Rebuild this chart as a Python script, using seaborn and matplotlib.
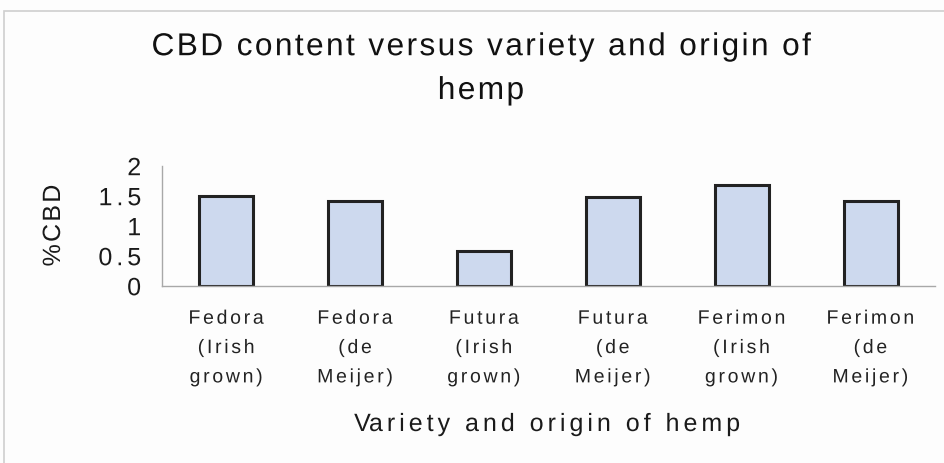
import matplotlib
matplotlib.use("Agg")
import numpy as np
import matplotlib.pyplot as plt
import seaborn as sns
import pandas as pd
from matplotlib.patches import Rectangle
from matplotlib.path import Path
from matplotlib.patheffects import AbstractPathEffect

categories = [
    "Fedora\n(Irish\ngrown)",
    "Fedora\n(de\nMeijer)",
    "Futura\n(Irish\ngrown)",
    "Futura\n(de\nMeijer)",
    "Ferimon\n(Irish\ngrown)",
    "Ferimon\n(de\nMeijer)",
]
cbd_percent = [1.49, 1.42, 0.58, 1.48, 1.68, 1.41]
y_ticks = [0, 0.5, 1, 1.5, 2]
y_tick_labels = ["0", "0.5", "1", "1.5", "2"]


class Tracking(AbstractPathEffect):
    """Spread glyphs apart (letter spacing) while keeping the text anchor."""

    def __init__(self, track=0.1, align="center"):
        super().__init__()
        self._track = track * 100.0   # text paths are laid out at 100 units/em
        self._align = align

    def draw_path(self, renderer, gc, tpath, affine, rgbFace=None):
        codes = tpath.codes
        verts = np.array(tpath.vertices, dtype=float)
        if codes is None or len(verts) == 0:
            renderer.draw_path(gc, tpath, affine, rgbFace)
            return
        starts = list(np.flatnonzero(codes == Path.MOVETO)) + [len(verts)]
        # group contours into glyphs
        glyphs = []
        for a, b in zip(starts[:-1], starts[1:]):
            x0, x1 = verts[a:b, 0].min(), verts[a:b, 0].max()
            if glyphs and x0 < glyphs[-1][3] - 3:
                g = glyphs[-1]
                glyphs[-1] = (g[0], b, g[2], max(g[3], x1))
            else:
                glyphs.append((a, b, x0, x1))
        shift = 0.0
        prev_end = None
        for a, b, x0, x1 in glyphs:
            if prev_end is not None:
                shift += self._track
                if x0 - prev_end > 20:      # a word gap gets tracked too
                    shift += self._track
            verts[a:b, 0] += shift
            prev_end = x1
        extra = shift
        if self._align == "center":
            verts[:, 0] -= extra / 2.0
        elif self._align == "right":
            verts[:, 0] -= extra
        renderer.draw_path(gc, Path(verts, codes), affine, rgbFace)


sns.set_theme(style="white")
plt.rcParams["font.family"] = ["Liberation Sans", "DejaVu Sans"]

df = pd.DataFrame({"variety": categories, "cbd": cbd_percent})

W, H = 944, 464
fig = plt.figure(figsize=(W / 100, H / 100), dpi=100)
fig.patch.set_facecolor("#fdfdfd")
# chart-area frame
fig.patches.append(Rectangle((4 / W, -0.05), 1.2, 1.05 - 12 / H,
                             transform=fig.transFigure, fill=False,
                             edgecolor="#cfcfcf", linewidth=1.2))

ax = fig.add_axes([162 / W, (H - 286.7) / H, 773 / W, 120 / H])
sns.barplot(data=df, x="variety", y="cbd", ax=ax, color="#cdd9ee",
            saturation=1, width=0.42, edgecolor="#222222", linewidth=2.2)

ax.set_ylim(0, 2)
ax.set_xlim(-0.5, len(categories) - 0.5)
ax.set_yticks(y_ticks)
ax.set_yticklabels(y_tick_labels, fontsize=18, color="#1a1a1a")
ax.set_xticks([i - 0.5 for i in range(len(categories) + 1)])
ax.set_xticklabels([])
ax.set_xticks(range(len(categories)), minor=True)
ax.set_xticklabels(categories, minor=True, fontsize=14, color="#222222",
                   linespacing=1.95)
ax.tick_params(axis="x", which="minor", length=0, pad=18)
ax.tick_params(axis="x", which="major", length=5, color="#a8a8a8", width=1,
               direction="out")
ax.tick_params(axis="y", length=5, color="#a8a8a8", width=1, direction="out",
               pad=10)

for lbl in ax.get_yticklabels():
    lbl.set_path_effects([Tracking(0.16, "right")])
for lbl in ax.get_xticklabels(minor=True):
    lbl.set_path_effects([Tracking(0.14, "center")])

for side in ["top", "right"]:
    ax.spines[side].set_visible(False)
for side in ["left", "bottom"]:
    ax.spines[side].set_color("#a8a8a8")
    ax.spines[side].set_linewidth(1)
ax.set_facecolor("none")

ax.set_xlabel("")
ax.set_ylabel("%CBD", fontsize=18, color="#1a1a1a")
ax.yaxis.label.set_va("center")
ax.yaxis.set_label_coords((53 - 162) / 773, 0.5)
ax.yaxis.label.set_path_effects([Tracking(0.09, "center")])

xlab = fig.text(547 / W, 1 - 432 / H, "Variety and origin of hemp",
                ha="center", va="baseline", fontsize=18, color="#1a1a1a")
xlab.set_path_effects([Tracking(0.16, "center")])

title = fig.text(481 / W, 1 - 100 / H,
                 "CBD content versus variety and origin of\nhemp",
                 ha="center", va="baseline", fontsize=22.8, color="#111111",
                 linespacing=1.6)
title.set_path_effects([Tracking(0.075, "center")])

fig.savefig("out.png", dpi=100, facecolor=fig.get_facecolor())
